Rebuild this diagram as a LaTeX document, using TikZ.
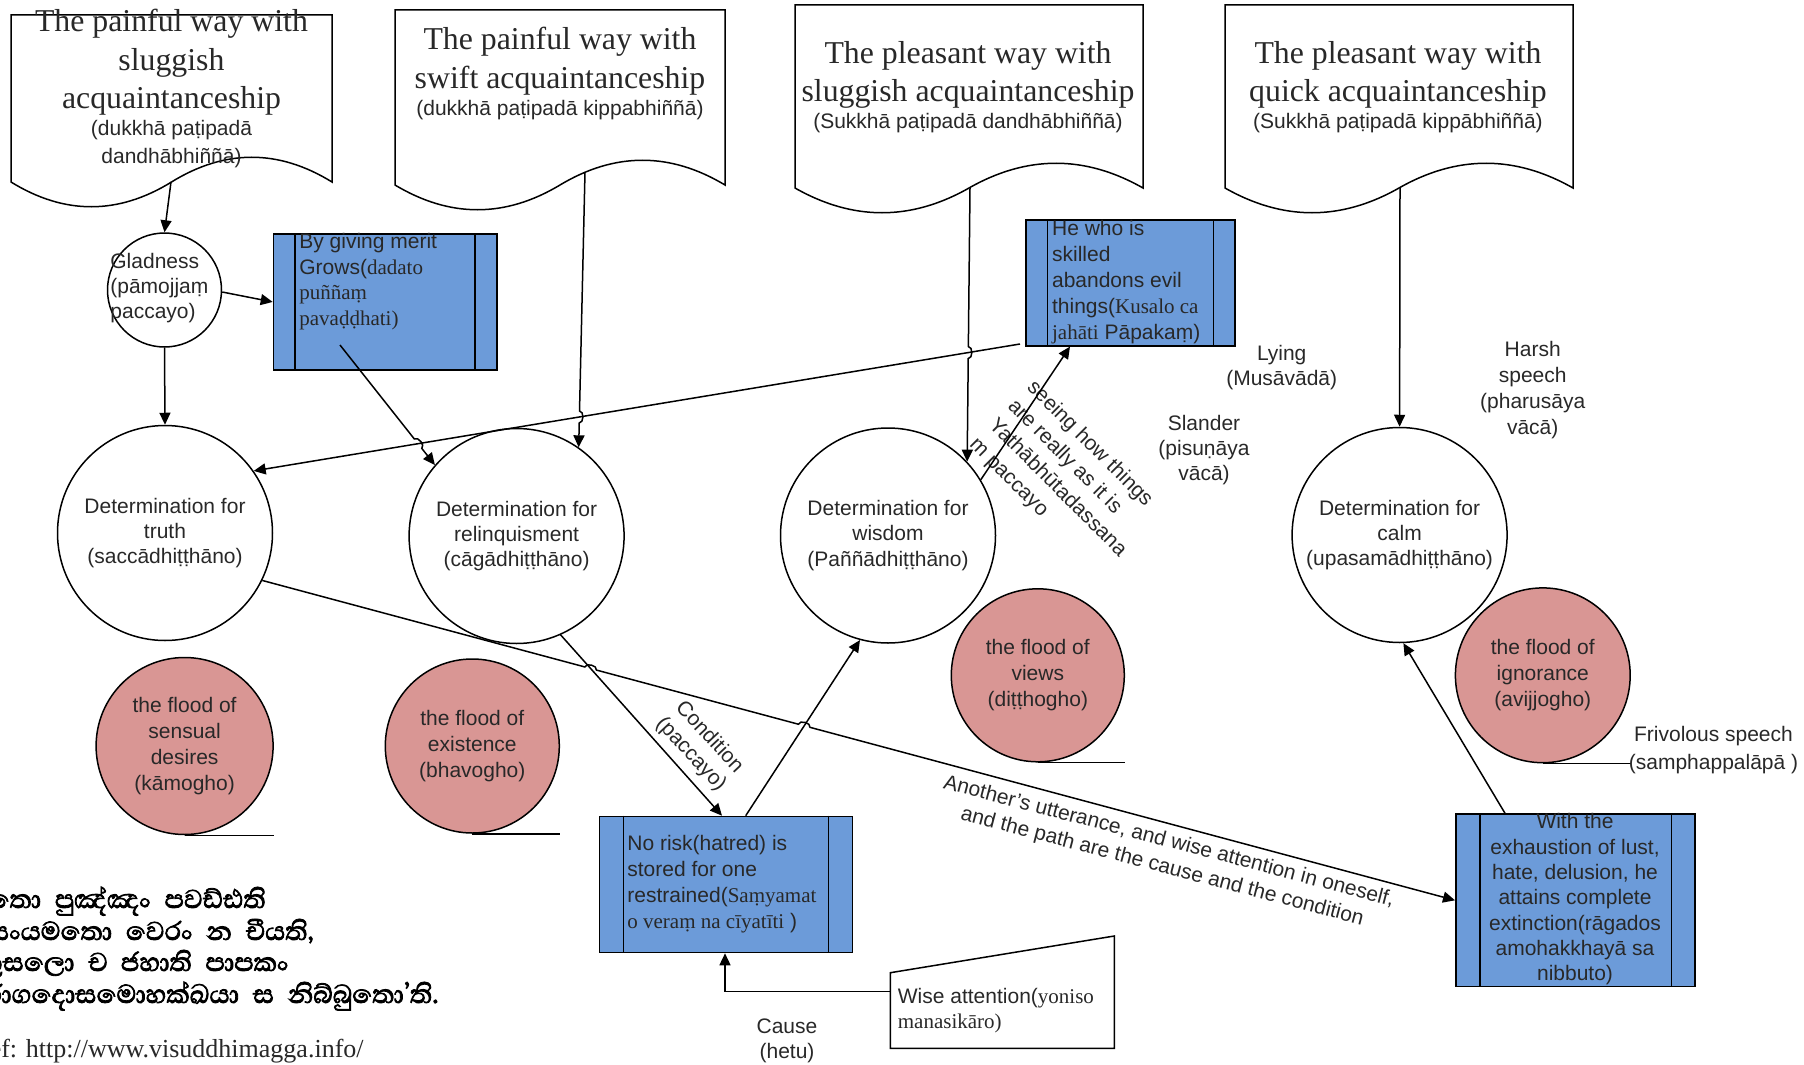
\documentclass[tikz,border=0pt]{standalone}
\usepackage{fontspec}
\setmainfont{Liberation Serif}
\setsansfont{Liberation Sans}
\newfontfamily\sinhfont[Script=Sinhala,FakeBold=2.5,WordSpace=2.2]{Abhaya Libre}
\usetikzlibrary{arrows.meta,calc,intersections}
\definecolor{boxblue}{RGB}{108,155,217}
\definecolor{floodpink}{RGB}{217,150,148}
\definecolor{txt}{RGB}{40,40,40}
\newcommand\tms[1]{{\rmfamily #1}}
\newcommand\docshape[4]{%
  \draw[shapeline] (#1,#2) -- (#3,#2) -- (#3,#4)
   .. controls ({#3-(#3-#1)/6},{#4-33}) and ({(#1+#3)/2+(#3-#1)/6},{#4-33}) .. ({(#1+#3)/2},#4)
   .. controls ({(#1+#3)/2-(#3-#1)/6},{#4+33}) and ({#1+(#3-#1)/6},{#4+33}) .. (#1,#4) -- cycle;}
\begin{document}
\begin{tikzpicture}[x=0.5pt,y=-0.5pt,
  shapeline/.style={draw=black,line width=0.75pt},
  conn/.style={draw=black,line width=0.75pt,-{Triangle[length=6pt,width=5.5pt]}},
  lbl/.style={inner sep=0pt,text=txt,font=\sffamily\fontsize{10.5}{#1}\selectfont},
  lbl/.default={12.8pt},
  ttl/.style={inner sep=0pt,text=txt,align=center,anchor=north,font=\rmfamily\fontsize{15.9}{19.25}\selectfont},
  detc/.style={circle,draw=black,line width=0.75pt,minimum size=107.5pt,inner sep=0pt,align=center,text=txt,font=\sffamily\fontsize{10.5}{12.65}\selectfont},
  flood/.style={circle,draw=black,line width=0.75pt,fill=floodpink,minimum size=#1,inner sep=0pt,align=center,text=txt,font=\sffamily\fontsize{10.5}{13}\selectfont},
  procbox/.style={draw=black,fill=boxblue,line width=0.8pt,inner sep=0pt,anchor=north west},
  sinh/.style={anchor=base east,inner sep=0pt,text=black,font=\sinhfont\fontsize{16.5}{19}\selectfont},
]
\useasboundingbox (0,0) rectangle (1804,1065);
\clip (0,0) rectangle (1804,1065);

% document shapes
\docshape{11}{15}{332}{182}
\docshape{395}{10}{725}{185}
\docshape{795}{5}{1143}{188}
\docshape{1225}{5}{1573}{188}
\node[ttl] (t1a) at (171.5,8.8) {The painful way with\\sluggish\\acquaintanceship};
\node[lbl=14pt,align=center,anchor=north] (t1b) at (171.5,119.4) {(dukkhā paṭipadā\\dandhābhiññā)};
\node[ttl] (t2a) at (560,26.8) {The painful way with\\swift acquaintanceship};
\node[lbl,align=center,anchor=north] (t2b) at (560,99.4) {(dukkhā paṭipadā kippabhiññā)};
\node[ttl] (t3a) at (968,40.8) {The pleasant way with\\sluggish acquaintanceship};
\node[lbl,align=center,anchor=north] (t3b) at (968,112.4) {(Sukkhā paṭipadā dandhābhiññā)};
\node[ttl] (t4a) at (1398,40.8) {The pleasant way with\\quick acquaintanceship};
\node[lbl,align=center,anchor=north] (t4b) at (1398,112.4) {(Sukkhā paṭipadā kippābhiññā)};

% gladness
\node[circle,draw=black,line width=0.75pt,minimum size=57pt,inner sep=0pt] (G) at (164.5,290) {};
\node[lbl=12.5pt,align=left,anchor=north west] (tG) at (110,253) {Gladness\\(pāmojjaṃ\\paccayo)};

% process boxes
\node[procbox,minimum width=111.65pt,minimum height=68.15pt] (B1) at (272.7,233) {};
\draw[shapeline] ($(B1.north west)+(22.5,0)$) -- ($(B1.south west)+(22.5,0)$)
  ($(B1.north east)+(-22.5,0)$) -- ($(B1.south east)+(-22.5,0)$);
\node[lbl=12.8pt,align=left,anchor=north west] (tB1) at (299,233) {By giving merit\\Grows(\tms{dadato}\\\tms{puññaṃ}\\\tms{pavaḍḍhati)}};

\node[procbox,minimum width=104.5pt,minimum height=63pt] (B2) at (1025,219) {};
\draw[shapeline] ($(B2.north west)+(22.7,0)$) -- ($(B2.south west)+(22.7,0)$)
  ($(B2.north east)+(-22.3,0)$) -- ($(B2.south east)+(-22.3,0)$);
\node[lbl=13pt,align=left,anchor=north west] (tB2) at (1051.7,220) {He who is\\skilled\\abandons evil\\things(\tms{Kusalo ca}\\\tms{jahāti} Pāpakaṃ)};

\node[procbox,minimum width=126.6pt,minimum height=68pt] (B3) at (598.6,815.7) {};
\draw[shapeline] ($(B3.north west)+(25,0)$) -- ($(B3.south west)+(25,0)$)
  ($(B3.north east)+(-24.7,0)$) -- ($(B3.south east)+(-24.7,0)$);
\node[lbl=12.9pt,align=left,anchor=north west] (tB3) at (627,835) {No risk(hatred) is\\stored for one\\restrained(\tms{Saṃyamat}\\\tms{o veraṃ na cīyatīti} )};

\node[procbox,minimum width=119.5pt,minimum height=86.2pt] (B4) at (1455,813.3) {};
\draw[shapeline] ($(B4.north west)+(25,0)$) -- ($(B4.south west)+(25,0)$)
  ($(B4.north east)+(-24,0)$) -- ($(B4.south east)+(-24,0)$);
\node[lbl=12.65pt,align=center,anchor=north] (tB4) at (1575,813.3) {With the\\exhaustion of lust,\\hate, delusion, he\\attains complete\\extinction(rāgados\\amohakkhayā sa\\nibbuto)};

% determination circles
\node[detc] (C1) at (165,533) {Determination for\\truth\\(saccādhiṭṭhāno)};
\node[detc] (C2) at (516.6,536) {Determination for\\relinquisment\\(cāgādhiṭṭhāno)};
\node[detc] (C3) at (888,535.5) {Determination for\\wisdom\\(Paññādhiṭṭhāno)};
\node[detc] (C4) at (1399.6,535) {Determination for\\calm\\(upasamādhiṭṭhāno)};

% floods
\node[flood=88.5pt] (F1) at (184.6,746) {the flood of\\sensual\\desires\\(kāmogho)};
\node[flood=87pt] (F2) at (472.3,746) {the flood of\\existence\\(bhavogho)};
\node[flood=86.5pt] (F3) at (1037.8,675.3) {the flood of\\views\\(diṭṭhogho)};
\node[flood=87.4pt] (F4) at (1542.8,675.3) {the flood of\\ignorance\\(avijjogho)};
\draw[shapeline] (F1.south) -- (F1.south -| F1.east);
\draw[shapeline] (F2.south) -- (F2.south -| F2.east);
\draw[shapeline] (F3.south) -- (F3.south -| F3.east);
\draw[shapeline] (F4.south) -- (F4.south -| F4.east);

% wise attention
\draw[shapeline] (890.4,972.7) -- (1114.3,936) -- (1114.3,1048.3) -- (890.4,1048.3) -- cycle;
\coordinate (WA) at (890.4,991.7);
\node[lbl=12.5pt,align=left,anchor=north west] (tWA) at (897.5,988) {Wise attention(\tms{yoniso}\\\tms{manasikāro)}};

% free labels
\node[lbl=12.5pt,align=center,anchor=north] (cause) at (787,1018.5) {Cause\\(hetu)};
\node[lbl=12.5pt,align=center,anchor=north] (lying) at (1281.7,344.5) {Lying\\(Musāvādā)};
\node[lbl=12.5pt,align=center,anchor=north] (slander) at (1204,414.5) {Slander\\(pisuṇāya\\vācā)};
\node[lbl=12.9pt,align=center,anchor=north] (harsh) at (1532.7,341) {Harsh\\speech\\(pharusāya\\vācā)};
\node[lbl=14.1pt,align=center,anchor=north] (frivol) at (1713.5,726) {Frivolous speech\\(samphappalāpā )};
\node[lbl=13.5pt,align=left,anchor=north west,rotate=-45] (seeing) at (1037,377) {seeing how things\\are really as it is\\Yathābhūtadassana\\m paccayo};
\node[lbl=12.5pt,align=center,rotate=-47] (cond) at (700,746) {Condition\\(paccayo)};
\node[lbl=13pt,align=center,rotate=-14.7] (another) at (1165.5,854.5) {Another’s utterance, and wise attention in oneself,\\and the path are the cause and the condition};

% connectors
\coordinate (d1b) at (171,182);
\coordinate (d2b) at (585,172);
\coordinate (d3b) at (970,188);
\coordinate (d4b) at (1400,188);
\coordinate (b1in) at (340,345);
\coordinate (b2out) at (1020,344);
\coordinate (b2in) at ($(B2.south west)+(45,0)$);
\coordinate (b3inc) at ($(B3.north west)+(123.4,0)$);
\coordinate (b3out) at ($(B3.north west)+(147.1,0)$);
\coordinate (b4out) at ($(B4.north west)+(50,0)$);
\path[name path=pB2C1] (b2out) -- (C1.35);
\path[name path=pB1C2] (b1in) -- (C2.139);
\path[name path=pD2] (d2b) -- (C2.55);
\path[name path=pD3] (d3b) -- (C3.43);
\path[name path=pC1B4] (C1.-26) -- (B4.west);
\path[name path=pC2B3] (C2.-66) -- (b3inc);
\path[name path=pB3C3] (b3out) -- (C3.-105);
\path[name intersections={of=pB2C1 and pB1C2,by=x1}];
\path[name intersections={of=pB2C1 and pD2,by=x2}];
\path[name intersections={of=pB2C1 and pD3,by=x3}];
\path[name intersections={of=pC1B4 and pC2B3,by=x4}];
\path[name intersections={of=pC1B4 and pB3C3,by=x5}];

\draw[conn] (d1b) -- (G.north);
\draw[conn] (G.-2) -- (B1.west);
\draw[conn] (G.south) -- (C1.north);
\draw[conn] (b1in) -- ($(x1)!3pt!(b1in)$) to[bend left=90] ($(x1)!3pt!(C2.139)$) -- (C2.139);
\draw[conn] (d2b) -- ($(x2)!3pt!(d2b)$) to[bend left=90] ($(x2)!3pt!(C2.55)$) -- (C2.55);
\draw[conn] (b2out) -- (C1.35);
\draw[conn] (d3b) -- ($(x3)!3pt!(d3b)$) to[bend left=90] ($(x3)!3pt!(C3.43)$) -- (C3.43);
\draw[conn] (d4b) -- (C4.north);
\draw[conn] (C3.31) -- (b2in);
\draw[conn] (C2.-66) -- (b3inc);
\draw[conn] (b3out) -- (C3.-105);
\draw[conn] (C1.-26) -- ($(x4)!3pt!(C1.-26)$) to[bend left=90] ($(x4)!3pt!(B4.west)$)
  -- ($(x5)!3pt!(C1.-26)$) to[bend left=90] ($(x5)!3pt!(B4.west)$) -- (B4.west);
\draw[conn] (b4out) -- (C4.-88);
\draw[conn] (WA) -| ($(B3.south west)+(126.4,0)$);

% Sinhala verse and reference
\node[sinh] (s1) at (266,908) {දදතො පුඤ්ඤං පවඩ්ඪති};
\node[sinh] (s2) at (314,940) {සංයමතො වෙරං න චීයති,};
\node[sinh] (s3) at (289,971) {කුසලො ච ජහාති පාපකං};
\node[sinh] (s4) at (439,1003) {රාගදොසමොහක්ඛයා ස නිබ්බුතො’ති.};
\node[anchor=base east,inner sep=0pt,text=txt,font=\rmfamily\fontsize{13}{15}\selectfont] (ref) at (364,1057) {Ref: http://www.visuddhimagga.info/};
\end{tikzpicture}
\end{document}
